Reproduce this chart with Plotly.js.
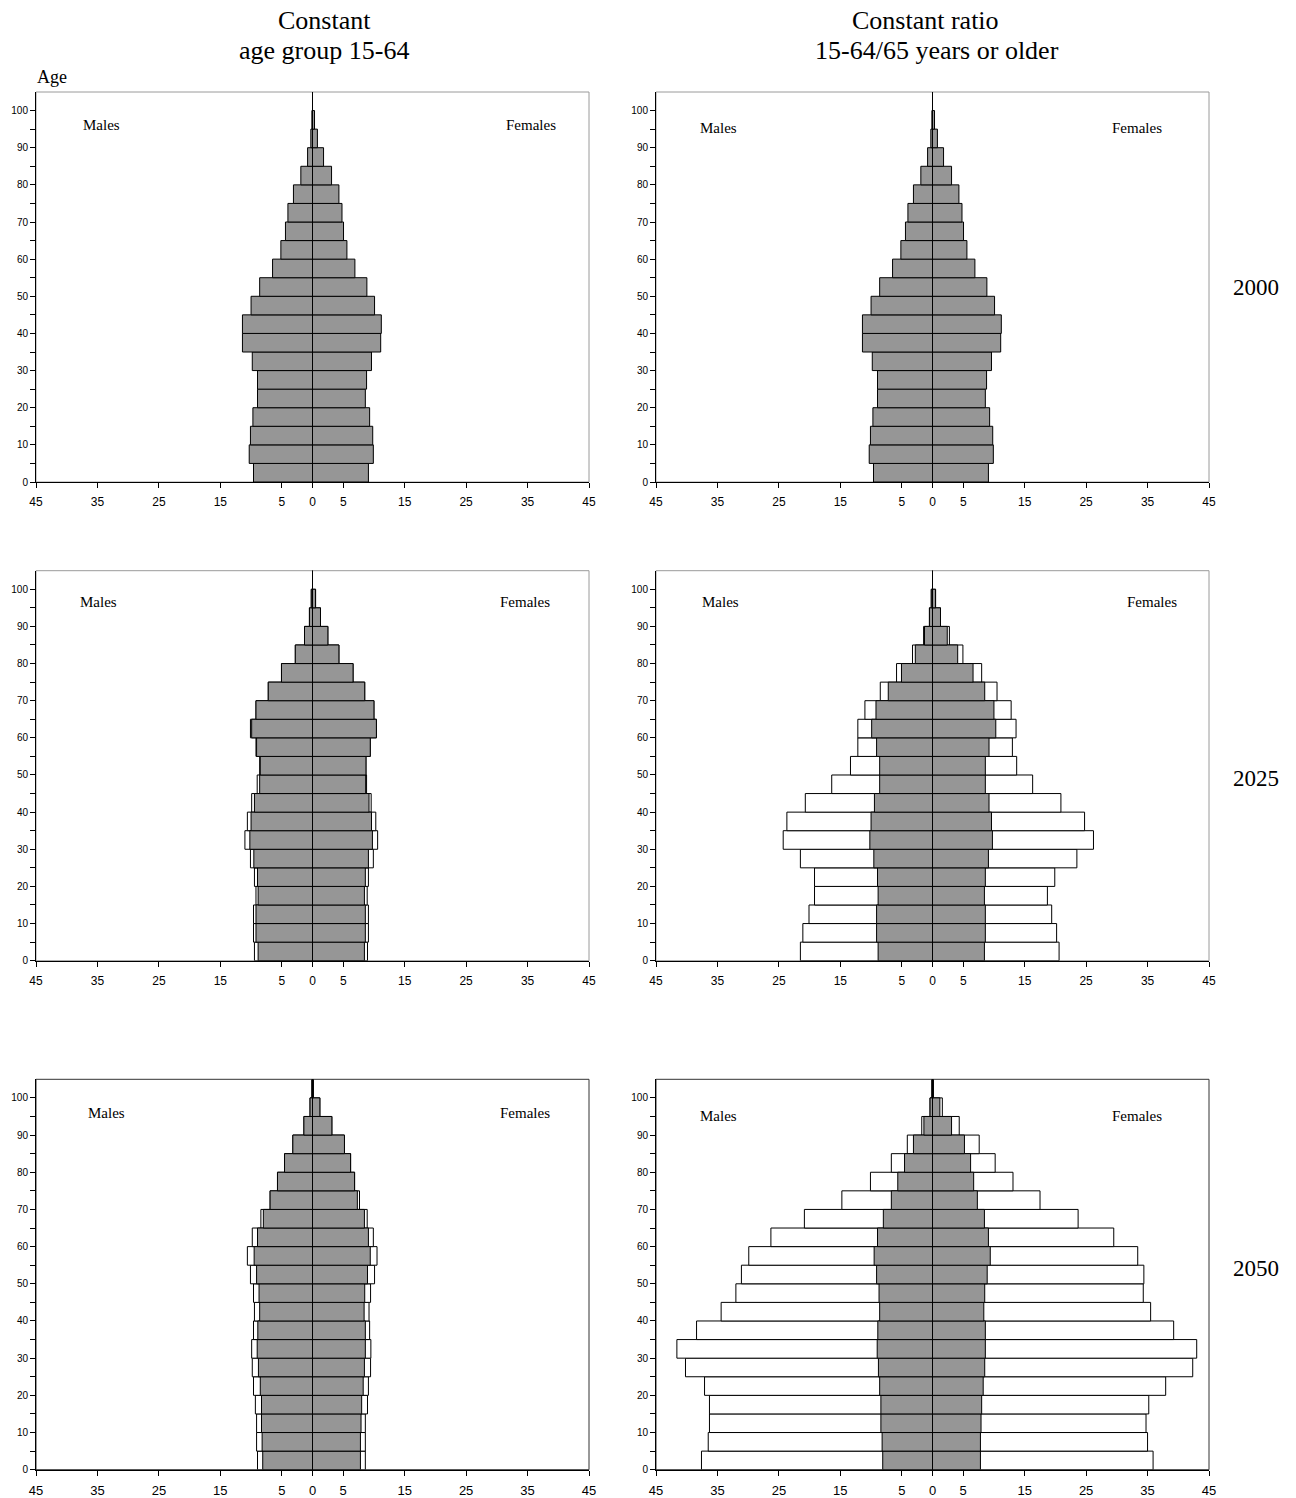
<!DOCTYPE html>
<html>
<head>
<meta charset="utf-8">
<script src="https://cdn.plot.ly/plotly-3.0.1.min.js"></script>
<style>html,body{margin:0;padding:0;background:#fff;}#chart{width:1296px;height:1498px;}</style>
</head>
<body>
<div id="chart"></div>
<script>
// Age groups (lower bound of each 5-year group)
const ageStart = [0,5,10,15,20,25,30,35,40,45,50,55,60,65,70,75,80,85,90,95,100];
const ageTickVals = [0,5,10,15,20,25,30,35,40,45,50,55,60,65,70,75,80,85,90,95,100];
const ageTickText = ['0','','10','','20','','30','','40','','50','','60','','70','','80','','90','','100'];
const xTickVals = [-45,-35,-25,-15,-5,0,5,15,25,35,45];
const xTickText = ['45','35','25','15','5','0','5','15','25','35','45'];

const colTitles = [["Constant","age group 15-64"],["Constant ratio","15-64/65 years or older"]];
const years = ["2000","2025","2050"];

// 2000 (both scenarios)
const males2000   = [9.6,10.3,10.1,9.7,8.95,8.95,9.8,11.4,11.4,10.0,8.6,6.5,5.15,4.4,4.0,3.1,1.9,0.8,0.27,0.1,0];
const females2000 = [9.1,9.9,9.8,9.3,8.6,8.8,9.6,11.1,11.2,10.1,8.85,6.9,5.6,5.05,4.8,4.3,3.1,1.8,0.8,0.33,0];

// 2025 constant age group 15-64
const males2025cBase   = [8.85,9.2,9.2,8.85,8.95,9.55,10.2,10.0,9.45,8.6,8.5,9.1,9.9,9.2,7.2,5.05,2.8,1.3,0.5,0.2,0];
const males2025cTotal  = [9.45,9.6,9.6,9.2,9.45,10.1,11.0,10.6,9.9,9.0,8.6,9.2,10.1,9.2,7.2,5.05,2.8,1.3,0.5,0.2,0];
const females2025cBase = [8.45,8.6,8.6,8.45,8.6,9.1,9.75,9.6,9.2,8.65,8.7,9.4,10.4,10.0,8.5,6.6,4.3,2.5,1.3,0.5,0];
const females2025cTotal= [8.95,9.1,9.1,8.9,9.1,9.9,10.6,10.3,9.55,8.8,8.7,9.4,10.4,10.0,8.5,6.6,4.3,2.5,1.3,0.5,0];

// 2025 constant ratio
const males2025rBase   = [8.85,9.1,9.1,8.85,8.95,9.55,10.2,10.0,9.45,8.6,8.6,9.1,9.9,9.2,7.2,5.05,2.8,1.3,0.5,0.2,0];
const males2025rTotal  = [21.5,21.1,20.1,19.2,19.2,21.5,24.3,23.7,20.7,16.4,13.35,12.15,12.15,11.0,8.5,5.85,3.25,1.45,0.5,0.2,0];
const females2025rBase = [8.45,8.6,8.6,8.45,8.6,9.1,9.75,9.6,9.2,8.6,8.6,9.2,10.3,10.0,8.5,6.6,4.1,2.4,1.3,0.5,0];
const females2025rTotal= [20.6,20.2,19.4,18.7,19.9,23.5,26.2,24.75,20.9,16.3,13.7,13.0,13.6,12.8,10.5,8.0,4.95,2.75,1.3,0.5,0];

// 2050 constant age group 15-64
const males2050cBase   = [8.1,8.2,8.3,8.3,8.5,8.8,9.0,8.9,8.6,8.7,9.1,9.5,8.95,8.0,6.9,5.7,4.55,3.2,1.4,0.4,0.1];
const males2050cTotal  = [8.95,9.1,9.1,9.3,9.6,9.8,9.9,9.6,9.45,9.6,10.1,10.6,9.8,8.4,6.9,5.7,4.55,3.2,1.4,0.4,0.1];
const females2050cBase = [7.8,7.8,7.9,8.0,8.25,8.45,8.6,8.6,8.4,8.5,8.95,9.4,9.1,8.45,7.3,6.85,6.2,5.2,3.15,1.2,0.15];
const females2050cTotal= [8.6,8.6,8.6,8.95,9.1,9.45,9.5,9.3,9.2,9.45,10.1,10.5,9.9,8.9,7.65,6.85,6.2,5.2,3.15,1.2,0.15];

// 2050 constant ratio
const males2050rBase   = [8.1,8.2,8.4,8.4,8.6,8.8,9.0,8.9,8.6,8.7,9.1,9.5,8.95,8.0,6.7,5.65,4.55,3.1,1.4,0.4,0.1];
const males2050rTotal  = [37.6,36.5,36.3,36.3,37.1,40.2,41.6,38.4,34.4,32.0,31.1,29.9,26.3,20.85,14.75,10.1,6.7,4.1,1.75,0.4,0.1];
const females2050rBase = [7.8,7.8,7.9,8.0,8.25,8.5,8.6,8.6,8.35,8.5,8.9,9.4,9.1,8.45,7.3,6.7,6.2,5.2,3.1,1.2,0.15];
const females2050rTotal= [35.9,35.0,34.75,35.2,37.95,42.35,43.0,39.25,35.5,34.3,34.4,33.4,29.5,23.7,17.5,13.1,10.2,7.6,4.35,1.6,0.15];

const panels = [
  {row:0,col:0,mB:males2000,fB:females2000,mT:null,fT:null},
  {row:0,col:1,mB:males2000,fB:females2000,mT:null,fT:null},
  {row:1,col:0,mB:males2025cBase,fB:females2025cBase,mT:males2025cTotal,fT:females2025cTotal},
  {row:1,col:1,mB:males2025rBase,fB:females2025rBase,mT:males2025rTotal,fT:females2025rTotal},
  {row:2,col:0,mB:males2050cBase,fB:females2050cBase,mT:males2050cTotal,fT:females2050cTotal},
  {row:2,col:1,mB:males2050rBase,fB:females2050rBase,mT:males2050rTotal,fT:females2050rTotal}
];

const W = 1296, H = 1498;
const px = x => x / W;
const py = y => 1 - y / H;
const colDom = [[px(36), px(589)], [px(656), px(1209)]];
const rowDom = [[py(482), py(92)], [py(960.7), py(570.7)], [py(1469.7), py(1079.3)]];

const GRAY = '#969696';
const traces = [];
const layout = {
  width: W, height: H,
  margin: {l:0, r:0, t:0, b:0},
  paper_bgcolor: '#fff', plot_bgcolor: '#fff',
  barmode: 'overlay', bargap: 0,
  showlegend: false,
  shapes: [], annotations: [],
  font: {family: 'Liberation Sans, Arial, sans-serif', color: '#000'}
};

function barTrace(vals, sign, color, i) {
  return {
    type: 'bar', orientation: 'h',
    y: ageStart, x: vals.map(v => sign * v),
    offset: 0, width: 5,
    xaxis: 'x' + i, yaxis: 'y' + i,
    marker: {color: color, line: {color: '#000', width: 1}},
    hoverinfo: 'skip'
  };
}

panels.forEach((p, k) => {
  const i = k + 1;
  const sfx = i === 1 ? '' : String(i);
  if (p.mT) {
    traces.push(barTrace(p.mT, -1, '#ffffff', i === 1 ? '' : i));
    traces.push(barTrace(p.fT, 1, '#ffffff', i === 1 ? '' : i));
  }
  traces.push(barTrace(p.mB, -1, GRAY, i === 1 ? '' : i));
  traces.push(barTrace(p.fB, 1, GRAY, i === 1 ? '' : i));
  const xfs = p.row === 2 ? 13 : 12;
  layout['xaxis' + sfx] = {
    domain: colDom[p.col], anchor: 'y' + sfx, range: [-45, 45],
    tickvals: xTickVals, ticktext: xTickText,
    ticks: 'outside', ticklen: 5, tickcolor: '#000', tickwidth: 1,
    showline: true, linecolor: '#000', linewidth: 1,
    showgrid: false, zeroline: false, fixedrange: true,
    ticklabelstandoff: 4,
    tickfont: {family: 'Liberation Sans, Arial, sans-serif', size: xfs, color: '#000'}
  };
  layout['yaxis' + sfx] = {
    domain: rowDom[p.row], anchor: 'x' + sfx, range: [0, 105],
    tickvals: ageTickVals, ticktext: ageTickText,
    ticks: 'outside', ticklen: 5, tickcolor: '#000', tickwidth: 1,
    showline: true, linecolor: '#000', linewidth: 1,
    showgrid: false, zeroline: false, fixedrange: true,
    tickfont: {family: 'Liberation Sans, Arial, sans-serif', size: 10, color: '#000'}
  };
  const xr = 'x' + sfx, yr = 'y' + sfx;
  // frame (top/right lighter)
  layout.shapes.push({type: 'rect', xref: xr + ' domain', yref: yr + ' domain', x0: 0, x1: 1, y0: 0, y1: 1,
    line: {color: p.row === 2 ? '#333' : '#9a9a9a', width: 1}, layer: 'below'});
  // centre line
  layout.shapes.push({type: 'line', xref: xr, yref: yr + ' domain', x0: 0, x1: 0, y0: 0, y1: 1,
    line: {color: '#000', width: 1}, layer: 'above'});
});

// Panel labels
const serif = 'Liberation Serif, Times New Roman, serif';
const sexLabels = [
  [101, 125, 531, 125], [718, 128, 1137, 128],
  [98, 602, 525, 602], [720, 602, 1152, 602],
  [106, 1113, 525, 1113], [718, 1116, 1137, 1116]
];
sexLabels.forEach(s => {
  layout.annotations.push({xref: 'paper', yref: 'paper', x: px(s[0]), y: py(s[1]), text: 'Males', showarrow: false,
    xanchor: 'center', yanchor: 'middle', font: {family: serif, size: 15, color: '#000'}});
  layout.annotations.push({xref: 'paper', yref: 'paper', x: px(s[2]), y: py(s[3]), text: 'Females', showarrow: false,
    xanchor: 'center', yanchor: 'middle', font: {family: serif, size: 15, color: '#000'}});
});
// Column titles
const titlePos = [[[324, 20], [324, 51]], [[925, 20], [937, 51]]];
colTitles.forEach((t, c) => {
  t.forEach((line, j) => {
    layout.annotations.push({xref: 'paper', yref: 'paper', x: px(titlePos[c][j][0]), y: py(titlePos[c][j][1]),
      text: line, showarrow: false, xanchor: 'center', yanchor: 'middle',
      font: {family: serif, size: 26, color: '#000'}});
  });
});
// Year labels
const yearY = [288, 778, 1268];
years.forEach((yr, r) => {
  layout.annotations.push({xref: 'paper', yref: 'paper', x: px(1256), y: py(yearY[r]), text: yr, showarrow: false,
    xanchor: 'center', yanchor: 'middle', font: {family: serif, size: 23, color: '#000'}});
});
// Age axis label
layout.annotations.push({xref: 'paper', yref: 'paper', x: px(52), y: py(77), text: 'Age', showarrow: false,
  xanchor: 'center', yanchor: 'middle', font: {family: serif, size: 18, color: '#000'}});

Plotly.newPlot('chart', traces, layout, {staticPlot: true, displayModeBar: false});
</script>
</body>
</html>
